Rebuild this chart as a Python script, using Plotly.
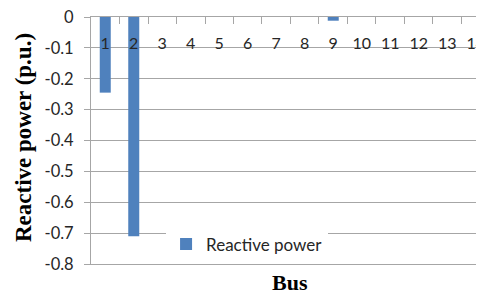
import plotly.graph_objects as go

buses = [str(i) for i in range(1, 15)]
reactive_power = [-0.245, -0.71, 0, 0, 0, 0, 0, 0, -0.012, 0, 0, 0, 0, 0]
y_tickvals = [0, -0.1, -0.2, -0.3, -0.4, -0.5, -0.6, -0.7, -0.8]
y_ticktext = ["0", "-0.1", "-0.2", "-0.3", "-0.4", "-0.5", "-0.6", "-0.7", "-0.8"]

BAR = "#4f81bd"
GRID = "#a6a6a6"
TXT = "#262626"
SANS = "Lato"
SERIF = "Liberation Serif"

fig = go.Figure()
fig.add_trace(go.Bar(x=buses, y=reactive_power, name="Reactive power",
                     marker=dict(color=BAR, line=dict(width=0))))
# invisible companion trace so the label axis has the same categories
fig.add_trace(go.Bar(x=buses, y=[None] * len(buses), xaxis="x2",
                     showlegend=False, hoverinfo="skip"))

# the page body adds an 8px offset, so the figure is sized/margined to compensate
fig.update_layout(
    width=484, height=286,
    margin=dict(l=83, r=8, t=9, b=30, autoexpand=False),
    paper_bgcolor="white", plot_bgcolor="white",
    bargap=0.614,
    barmode="overlay",
    showlegend=True,
    legend=dict(x=0.191, y=0.152, xanchor="left", yanchor="top",
                bgcolor="white", borderwidth=0,
                font=dict(family=SANS, size=17, color=TXT)),
    xaxis=dict(type="category", range=[-0.5, 13.29], side="top",
               showline=True, linecolor=GRID, linewidth=1, mirror=True,
               ticks="inside", ticklen=7, tickcolor=GRID, tickson="boundaries",
               showticklabels=False, automargin=False,
               showgrid=False, zeroline=False),
    xaxis2=dict(type="category", range=[-0.5, 13.29], overlaying="x",
                side="top", anchor="free", position=0.858,
                showline=False, ticks="", showgrid=False, zeroline=False,
                automargin=False, ticklabeloverflow="allow",
                tickfont=dict(family=SANS, size=16, color=TXT)),
    yaxis=dict(range=[-0.8, 0], tickvals=y_tickvals, ticktext=y_ticktext,
               showgrid=True, gridcolor=GRID, gridwidth=1,
               showline=True, linecolor=GRID, linewidth=1,
               ticks="outside", ticklen=6, tickcolor=GRID,
               ticklabelstandoff=7, ticklabeloverflow="allow",
               zeroline=False, automargin=False,
               tickfont=dict(family=SANS, size=16.5, color=TXT)),
    annotations=[
        dict(text="<b>Reactive power (p.u.)</b>", textangle=-90,
             xref="paper", yref="paper", x=0, y=0.51, xshift=-68,
             xanchor="center", yanchor="middle", showarrow=False,
             font=dict(family=SERIF, size=23, color="black")),
        dict(text="<b>Bus</b>", xref="paper", yref="paper", x=0.506, y=0,
             yshift=-18, xanchor="center", yanchor="middle", showarrow=False,
             font=dict(family=SERIF, size=22, color="black")),
    ],
)

fig.write_html("out.html")
